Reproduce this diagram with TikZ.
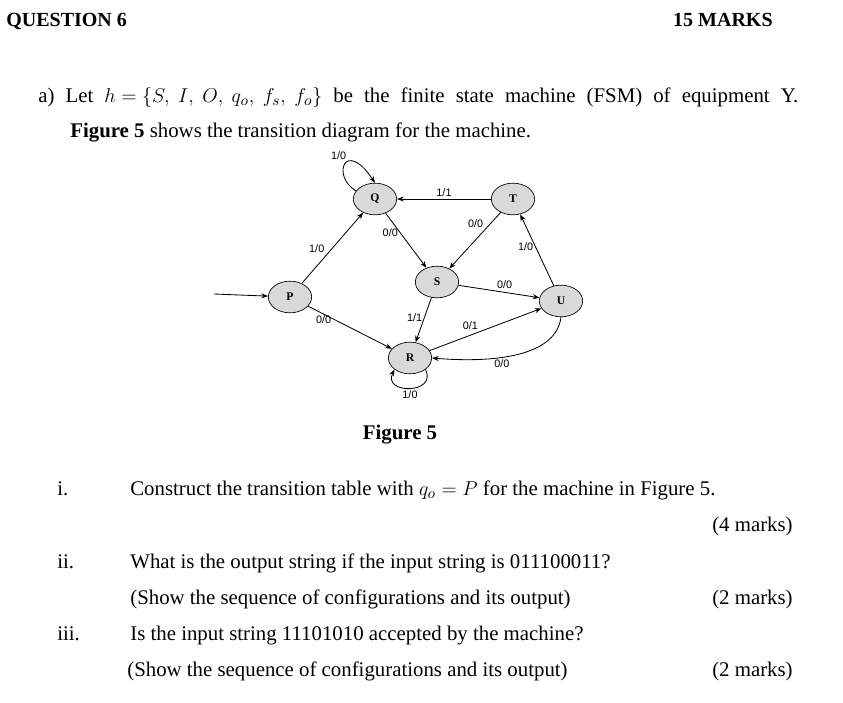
\documentclass[tikz,border=0pt]{standalone}
\usepackage{fontspec}
\setmainfont{Liberation Serif}
\newfontfamily\lblfont{Liberation Sans}
\usetikzlibrary{shapes.geometric,arrows.meta}
\begin{document}
\begin{tikzpicture}[x=0.6pt,y=-0.6pt,
  st/.style={ellipse,draw,fill=gray!30,minimum width=26pt,minimum height=19pt,inner sep=0pt,font=\fontsize{7}{8}\selectfont\bfseries},
  tr/.style={-{Stealth[length=4pt,width=3pt]},line width=0.5pt},
  lb/.style={font=\lblfont\fontsize{6.5}{7}\selectfont,inner sep=1pt},
  txt/.style={anchor=base west,inner sep=0pt,font=\fontsize{12.5}{14}\selectfont}]
\useasboundingbox (0,0) rectangle (843,703);
% header
\node[txt,font=\fontsize{12}{14}\selectfont\bfseries] (h1) at (6,26) {QUESTION 6};
\node[txt,anchor=base east,font=\fontsize{12}{14}\selectfont\bfseries] (h2) at (773,26) {15 MARKS};
\node[txt] (l1) at (38,102) {\makebox[456pt][s]{a)\ Let \mbox{$h=\{S,\ I,\ O,\ q_o,\ f_s,\ f_o\}$} be the finite state machine (FSM) of equipment Y.}};
\node[txt] (l2) at (70,137) {\textbf{Figure 5} shows the transition diagram for the machine.};
% states
\node[st] (Q) at (375,199) {Q};
\node[st] (T) at (513,199) {T};
\node[st] (P) at (290,297) {P};
\node[st] (S) at (437,282) {S};
\node[st] (U) at (561,301) {U};
\node[st] (R) at (410,358) {R};
\coordinate (in) at (214,294);
\draw[tr] (in) -- (P);
\draw[tr] (P) -- node[lb,above left,pos=0.4]{1/0} (Q);
\draw[tr] (P) -- node[lb,below left,pos=0.3,yshift=3pt]{0/0} (R);
\draw[tr] (Q.west) ++(3,-8) .. controls +(-25,-15) and +(-30,-45) .. node[lb,above left,pos=0.6]{1/0} (Q.north);
\draw[tr] (T) -- node[lb,above]{1/1} (Q);
\draw[tr] (Q) -- node[lb,left,pos=0.35]{0/0} (S);
\draw[tr] (T) -- node[lb,above left,pos=0.3]{0/0} (S);
\draw[tr] (U) -- node[lb,left,pos=0.55]{1/0} (T);
\draw[tr] (S) -- node[lb,above right,pos=0.45]{0/0} (U);
\draw[tr] (S) -- node[lb,left,pos=0.45]{1/1} (R);
\draw[tr] (R) -- node[lb,above left,pos=0.45]{0/1} (U);
\draw[tr] (U.south) .. controls +(-5,40) and +(60,5) .. node[lb,below,pos=0.6]{0/0} (R.east);
\draw[tr] (R.south east) .. controls +(12,25) and +(-12,25) .. node[lb,below]{1/0} (R.south west);
\node[txt,anchor=base,font=\fontsize{12.5}{14}\selectfont\bfseries] (f5) at (400,439) {Figure 5};
% questions
\node[txt] (n1) at (57,495) {i.};
\node[txt] (q1) at (130,495) {Construct the transition table with $q_o=P$ for the machine in Figure 5.};
\node[txt,anchor=base east] (m1) at (793,531) {(4 marks)};
\node[txt] (n2) at (57,568) {ii.};
\node[txt] (q2) at (130,568) {What is the output string if the input string is 011100011?};
\node[txt] (q2b) at (130,604) {(Show the sequence of configurations and its output)};
\node[txt,anchor=base east] (m2) at (793,604) {(2 marks)};
\node[txt] (n3) at (57,640) {iii.};
\node[txt] (q3) at (130,640) {Is the input string 11101010 accepted by the machine?};
\node[txt] (q3b) at (127,676) {(Show the sequence of configurations and its output)};
\node[txt,anchor=base east] (m3) at (793,676) {(2 marks)};
\end{tikzpicture}
\end{document}
